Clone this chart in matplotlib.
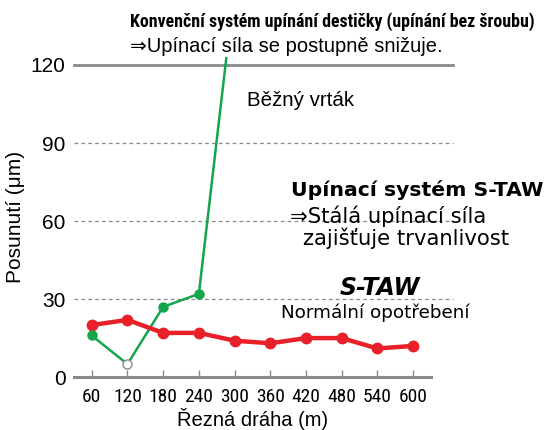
import matplotlib
matplotlib.use("Agg")
import matplotlib.pyplot as plt
from matplotlib import font_manager as fm

categories = ["60", "120", "180", "240", "300", "360", "420", "480", "540", "600"]
staw = [20, 22, 17, 17, 14, 13, 15, 15, 11, 12]
conventional = [16, 5, 27, 32, 150]
yticks = [0, 30, 60, 90, 120]

RED = "#e8202a"
GREEN = "#13a64b"
GRAY = "#8a8a8a"

plt.rcParams['font.family'] = ['Liberation Sans', 'DejaVu Sans']
available = {f.name for f in fm.fontManager.ttflist}
narrow_name = None
for cand in ['Liberation Sans Narrow', 'Arial Narrow', 'DejaVu Sans Condensed',
             'Roboto Condensed', 'Open Sans Condensed', 'Noto Sans Condensed']:
    if cand in available:
        narrow_name = cand
        break
NARROW = ([narrow_name] if narrow_name else []) + ['Liberation Sans', 'DejaVu Sans']
WIDE = ['DejaVu Sans']

fig = plt.figure(figsize=(5.47, 4.30), dpi=100)
ax = fig.add_axes([0.135, 0.123, 0.653, 0.744])
renderer = fig.canvas.get_renderer()

x = list(range(len(categories)))
ax.set_xlim(-0.5, len(categories) - 0.5)
ax.set_ylim(0, 123)

GRID_XMAX = 1.062
for v in yticks[1:-1]:
    ax.axhline(v, xmax=GRID_XMAX, color=GRAY, lw=0.9, ls=(0, (3, 2.5)), zorder=1, clip_on=False)
ax.axhline(120, xmax=GRID_XMAX, color=GRAY, lw=2.0, zorder=1, clip_on=False)

ax.plot(x, staw, color=RED, lw=3.2, marker="o", ms=7.5, zorder=4, solid_capstyle="round")
xc = x[:len(conventional)]
ax.plot(xc, conventional, color=GREEN, lw=1.8, zorder=3)
for i, v in zip(xc, conventional):
    if i == 1:
        ax.plot(i, v, marker="o", ms=6.5, mfc="white", mec=GRAY, mew=1.0, zorder=5, ls="none")
    else:
        ax.plot(i, v, marker="o", ms=6.5, color=GREEN, zorder=5, ls="none")

for s in ["left", "right", "top"]:
    ax.spines[s].set_visible(False)
ax.spines["bottom"].set_color(GRAY)
ax.spines["bottom"].set_linewidth(2.2)

ax.set_yticks(yticks)
ax.set_yticklabels([str(v) for v in yticks], fontsize=15)
ax.tick_params(axis="y", length=0, pad=6)
ax.set_xticks(x)
ax.set_xticklabels(categories, fontsize=14 if narrow_name else 12, family=NARROW)
ax.tick_params(axis="x", direction="in", length=5, color=GRAY, width=1, pad=8)

ax.set_ylabel("Posunutí (μm)", fontsize=15, labelpad=4)
ax.set_xlabel("Řezná dráha (m)", fontsize=14.5, labelpad=1)

W, H = 547, 430

def ft(px, py, s, width, ha="left", size=14, maxsize=None, **kw):
    t = fig.text(px / W, 1 - py / H, s, va="center", ha=ha, fontsize=size, **kw)
    w = t.get_window_extent(renderer).width
    ns = size * width / w
    if maxsize:
        ns = min(ns, maxsize)
    t.set_fontsize(ns)
    return t

ft(130, 22, "Konvenční systém upínání destičky (upínání bez šroubu)", 405,
   fontweight="bold", family=NARROW)
ft(130, 47, "⇒Upínací síla se postupně snižuje.", 315)
ft(247, 101, "Běžný vrták", 108, maxsize=16)
ft(291, 190, "Upínací systém S-TAW", 252, fontweight="bold", maxsize=15.5, family=WIDE)
ft(290, 216, "⇒Stálá upínací síla", 228, maxsize=15.2, family=WIDE)
ft(303, 238, "zajišťuje trvanlivost", 225, maxsize=15.2, family=WIDE)
fig.text(380 / W, 1 - 288 / H, "S-TAW", va="center", ha="center", fontsize=17,
         fontweight="bold", style="italic", family=WIDE)
ft(375, 313, "Normální opotřebení", 190, ha="center", maxsize=14.8, family=WIDE)

fig.savefig("out.png", dpi=100)
